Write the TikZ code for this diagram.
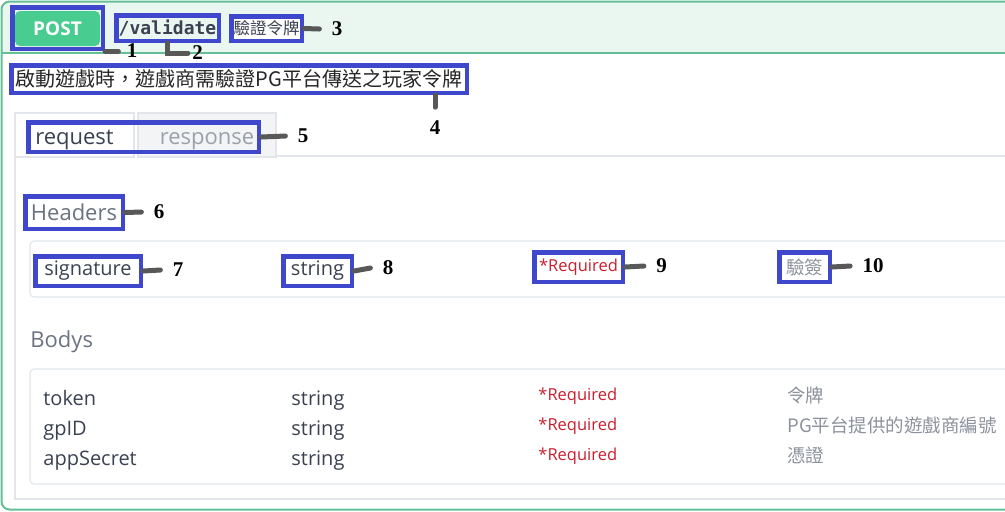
\documentclass[tikz,border=0pt]{standalone}
\usepackage{fontspec}
\setmainfont{Open Sans}
\setmonofont{DejaVu Sans Mono}
\newfontfamily\cjk{Noto Sans CJK TC}
\newfontfamily\numfont{Liberation Serif}
\usepackage{xcolor}
\usepackage{tikz}
\usetikzlibrary{positioning}

\definecolor{hlblue}{RGB}{63,72,204}
\definecolor{leadgray}{RGB}{88,88,88}
\definecolor{okgreen}{RGB}{73,204,144}
\definecolor{bordergreen}{RGB}{100,190,150}
\definecolor{bandgreen}{RGB}{233,247,240}
\definecolor{txtdark}{RGB}{59,65,81}
\definecolor{txtgray}{RGB}{107,114,128}
\definecolor{resgray}{RGB}{155,160,170}
\definecolor{tabgray}{RGB}{243,244,246}
\definecolor{rulegray}{RGB}{226,230,235}
\definecolor{reqred}{RGB}{200,30,45}
\definecolor{notegray}{RGB}{140,145,155}

\begin{document}
\begin{tikzpicture}[
    x=0.5pt, y=-0.5pt,
    hl/.style={draw=hlblue, line width=2.25pt, inner sep=0pt},
    lead/.style={draw=leadgray, line width=2.5pt, line cap=round},
    num/.style={font=\numfont\bfseries\fontsize{10.5}{12}\selectfont, inner xsep=6pt, inner ysep=0pt},
    tab/.style={draw=rulegray, line width=0.6pt, minimum height=22pt, inner sep=0pt, text height=9pt, text depth=0pt, font=\fontsize{11}{13}\selectfont},
    fieldtxt/.style={font=\fontsize{10}{12}\selectfont, text=txtdark, inner sep=0pt},
    reqtxt/.style={font=\fontsize{8.25}{10}\selectfont, text=reqred, inner sep=0pt},
    notetxt/.style={font=\cjk\fontsize{9.25}{11}\selectfont, text=notegray, inner sep=0pt},
    cardline/.style={draw=rulegray, line width=0.6pt}
]

\useasboundingbox (0,0) rectangle (1005,511);
\clip (0,0) rectangle (1005,511);

\fill[bandgreen] (1.5,53) [rounded corners=4pt] -- (1.5,1.5) -- (1040,1.5) [sharp corners] -- (1040,53) -- cycle;
\draw[bordergreen, line width=1pt] (1.5,53) -- (1040,53);
\draw[bordergreen, line width=1pt, rounded corners=4pt] (1.5,1.5) rectangle (1040,509.5);

\draw[cardline] (15,113) -- (15,499) -- (1040,499);
\draw[cardline] (276,156) -- (1040,156);
\draw[cardline, rounded corners=2pt] (30,241) rectangle (1040,297);
\draw[cardline, rounded corners=2pt] (30,369) rectangle (1040,484);

\node[tab, fill=white, minimum width=59.5pt, text=txtdark] (reqtab) at (74.5,135) {request};
\node[tab, fill=tabgray, minimum width=69pt, text=resgray] (restab) at (207,135) {response};

\node[fill=okgreen, rounded corners=2.5pt, minimum width=42.5pt, minimum height=17.5pt, inner sep=0pt, font=\bfseries\fontsize{9.5}{11}\selectfont, text=white] (postbtn) at (57.5,28.5) {POST};
\node[hl, minimum width=45.25pt, minimum height=20.75pt] (postbox) at (57.5,28) {};
\node[hl, font=\ttfamily\bfseries\fontsize{9}{11}\selectfont, text=txtdark, minimum width=51.25pt, minimum height=12.75pt] (path) at (167.5,28) {/validate};
\node[hl, fill=white, font=\cjk\fontsize{8.25}{10}\selectfont, text=txtdark, minimum width=35.25pt, minimum height=12.25pt] (title) at (266.5,28.5) {驗證令牌};
\node[hl, fill=white, font=\cjk\fontsize{10}{12}\selectfont, text=black!85, minimum width=227.75pt, minimum height=13.75pt] (desc) at (239,79) {啟動遊戲時，遊戲商需驗證PG平台傳送之玩家令牌};
\node[hl, minimum width=115.25pt, minimum height=14.75pt] (tabs) at (143.5,137) {};
\node[hl, font=\fontsize{11}{13}\selectfont, text=txtgray, minimum width=48.75pt, minimum height=16.25pt] (headers) at (74,212.5) {Headers};
\node[hl, fieldtxt, minimum width=52.75pt, minimum height=14.75pt] (sig) at (88,271) {signature};
\node[hl, fieldtxt, minimum width=34.25pt, minimum height=14.75pt] (sigtype) at (317.5,271) {string};
\node[hl, reqtxt, minimum width=44.25pt, minimum height=14.75pt] (sigreq) at (578.5,267) {*Required};
\node[hl, notetxt, minimum width=25.25pt, minimum height=14.75pt] (signote) at (804.5,267) {驗簽};

\node[font=\fontsize{11}{13}\selectfont, text=txtgray, inner sep=0pt, anchor=base west] (bodys) at (30,347) {Bodys};
\node[fieldtxt, anchor=base west] (tok) at (43,405) {token};
\node[fieldtxt, anchor=base west] (gpid) at (43,435) {gpID};
\node[fieldtxt, anchor=base west] (secret) at (43,465) {appSecret};
\node[fieldtxt, anchor=base west] (toktype) at (291,405) {string};
\node[fieldtxt, anchor=base west] (gpidtype) at (291,435) {string};
\node[fieldtxt, anchor=base west] (secrettype) at (291,465) {string};
\node[reqtxt, anchor=base west] (tokreq) at (538,400) {*Required};
\node[reqtxt, anchor=base west] (gpidreq) at (538,430) {*Required};
\node[reqtxt, anchor=base west] (secretreq) at (538,460) {*Required};
\node[notetxt, anchor=base west] (toknote) at (787,402) {令牌};
\node[notetxt, anchor=base west] (gpidnote) at (787,432) {PG平台提供的遊戲商編號};
\node[notetxt, anchor=base west] (secretnote) at (787,462) {憑證};

\node[num] (n1) at (132,51) {1};
\node[num] (n2) at (197.5,53) {2};
\node[num] (n3) at (337,29) {3};
\node[num, inner ysep=6.5pt] (n4) at (435,127.5) {4};
\node[num] (n5) at (303,136) {5};
\node[num] (n6) at (159,212) {6};
\node[num] (n7) at (178,270) {7};
\node[num] (n8) at (388,268) {8};
\node[num] (n9) at (661.5,266) {9};
\node[num] (n10) at (873,266) {10};

\draw[lead] (postbox.south east) -- ([xshift=2pt]n1.west);
\draw[lead] (path.south) |- ([xshift=4pt]n2.west);
\draw[lead] (title.east) -- (n3.west);
\draw[lead] (desc.south -| n4.north) -- (n4.north);
\draw[lead] (tabs.east) -- (n5.west);
\draw[lead] (headers.east) -- (n6.west);
\draw[lead] (sig.east) -- (n7.west);
\draw[lead] (sigtype.east) -- (n8.west);
\draw[lead] (sigreq.east) -- (n9.west);
\draw[lead] (signote.east) -- (n10.west);

\end{tikzpicture}
\end{document}
